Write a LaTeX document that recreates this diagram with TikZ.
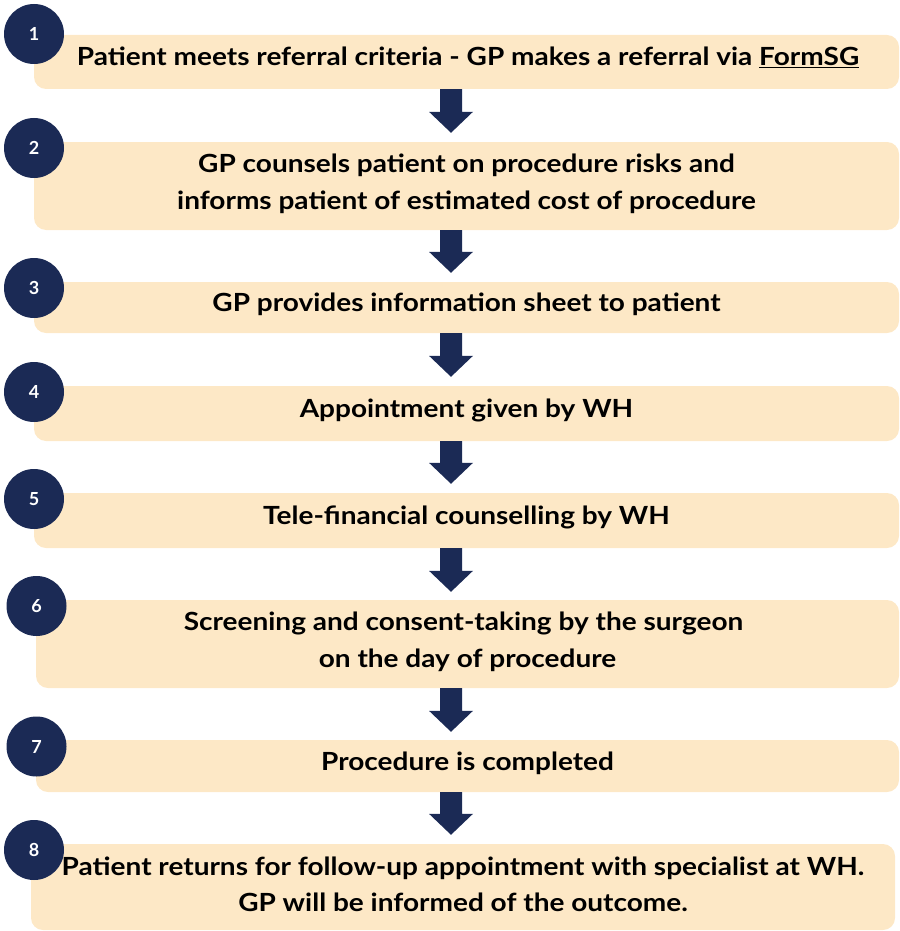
\documentclass[tikz,border=0pt]{standalone}
\usepackage{fontspec}
\setmainfont{Lato}
\newfontfamily\stepfont{Lato}[FakeStretch=1.12]
\usetikzlibrary{calc}
\definecolor{boxfill}{HTML}{FDE8C6}
\definecolor{navy}{HTML}{1B2A55}
\newcommand\flowarrow[2]{%
  \fill[navy] ($(#1)+(-11,0)$) -- ($(#1)+(11,0)$) -- ($(#2)+(11,-21)$) -- ($(#2)+(22,-21)$)
    -- (#2) -- ($(#2)+(-22,-21)$) -- ($(#2)+(-11,-21)$) -- cycle;}
\begin{document}
\begin{tikzpicture}[x=1pt,y=-1pt,
  stepbox/.style={fill=boxfill, rounded corners=12pt, inner sep=0pt, minimum width=865pt},
  num/.style={circle, fill=navy, minimum size=60pt, inner sep=0pt, text=white,
    font=\bfseries\fontsize{18}{18}\selectfont},
  txt/.style={anchor=base, inner sep=0pt, text=black, font=\stepfont\bfseries\fontsize{25}{25}\selectfont}]
\useasboundingbox (0,0) rectangle (899,931);
\coordinate (ax) at (451,0);
% boxes
\node[stepbox, minimum height=54pt] (b1) at (466.5,62) {};
\node[stepbox, minimum height=88pt] (b2) at (466.5,186) {};
\node[stepbox, minimum height=51pt] (b3) at (466.5,307.5) {};
\node[stepbox, minimum height=55pt] (b4) at (466.5,413.5) {};
\node[stepbox, minimum height=55pt] (b5) at (466.5,520.5) {};
\node[stepbox, minimum height=88pt, minimum width=863pt] (b6) at (467.5,644) {};
\node[stepbox, minimum height=52pt, minimum width=863pt] (b7) at (467.5,766) {};
\node[stepbox, minimum height=86pt, minimum width=864pt] (b8) at (463,887) {};
% numbers
\node[num] (c1) at (34,34) {1};
\node[num] (c2) at (34,148) {2};
\node[num] (c3) at (34,288) {3};
\node[num] (c4) at (34,392) {4};
\node[num] (c5) at (34,499) {5};
\node[num] (c6) at (36.5,606) {6};
\node[num] (c7) at (36.5,746.5) {7};
\node[num] (c8) at (34,850) {8};
% texts
\node[txt] (t1) at (468,66) {Patient meets referral criteria - GP makes a referral via \underline{FormSG}};
\node[txt] (t2a) at (466.5,172) {GP counsels patient on procedure risks and};
\node[txt] (t2b) at (466.5,209) {informs patient of estimated cost of procedure};
\node[txt] (t3) at (466.5,311.5) {GP provides information sheet to patient};
\node[txt] (t4) at (466.5,417.5) {Appointment given by WH};
\node[txt] (t5) at (466.5,524.5) {Tele-financial counselling by WH};
\node[txt] (t6a) at (463.5,630) {Screening and consent-taking by the surgeon};
\node[txt] (t6b) at (467.5,667) {on the day of procedure};
\node[txt] (t7) at (467.5,770) {Procedure is completed};
\node[txt] (t8a) at (463,875) {Patient returns for follow-up appointment with specialist at WH.};
\node[txt] (t8b) at (463,911) {GP will be informed of the outcome.};
% arrows
\coordinate (s1) at (b1.south -| ax); \coordinate (e1) at ($(b2.north -| ax)+(0,-9)$);
\coordinate (s2) at (b2.south -| ax); \coordinate (e2) at ($(b3.north -| ax)+(0,-9)$);
\coordinate (s3) at (b3.south -| ax); \coordinate (e3) at ($(b4.north -| ax)+(0,-9)$);
\coordinate (s4) at (b4.south -| ax); \coordinate (e4) at ($(b5.north -| ax)+(0,-9)$);
\coordinate (s5) at (b5.south -| ax); \coordinate (e5) at ($(b6.north -| ax)+(0,-8)$);
\coordinate (s6) at (b6.south -| ax); \coordinate (e6) at ($(b7.north -| ax)+(0,-8)$);
\coordinate (s7) at (b7.south -| ax); \coordinate (e7) at ($(b8.north -| ax)+(0,-9)$);
\flowarrow{s1}{e1}
\flowarrow{s2}{e2}
\flowarrow{s3}{e3}
\flowarrow{s4}{e4}
\flowarrow{s5}{e5}
\flowarrow{s6}{e6}
\flowarrow{s7}{e7}
\end{tikzpicture}
\end{document}
